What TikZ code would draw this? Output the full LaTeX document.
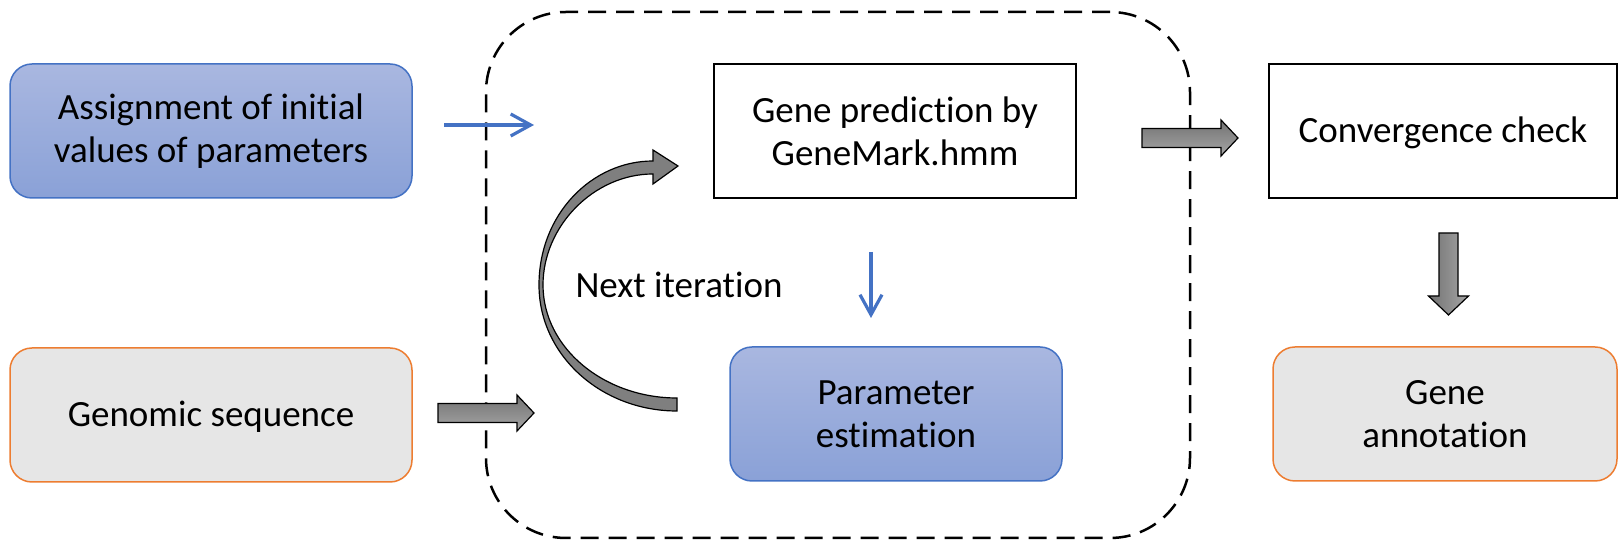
\documentclass[tikz,border=0pt]{standalone}
\usepackage{fontspec}
\setmainfont{Carlito}[Ligatures=NoCommon]
\usetikzlibrary{arrows.meta}
\definecolor{edgeblue}{HTML}{4472C4}
\definecolor{bluetop}{HTML}{A9B7E0}
\definecolor{bluebot}{HTML}{8AA1D7}
\definecolor{greyfill}{HTML}{E6E6E6}
\definecolor{edgeorange}{HTML}{ED7D31}
\definecolor{arrowdark}{HTML}{727272}
\definecolor{arrowlight}{HTML}{A6A6A6}
\definecolor{loopgrey}{HTML}{7F7F7F}

\begin{document}
\begin{tikzpicture}[x=0.5pt,y=-0.5pt,
  every node/.style={font=\fontsize{18.5}{21.5}\selectfont, align=center, inner sep=0pt},
  oneline/.style={align=none, text height=14.8pt, text depth=2.8pt},
  bluebox/.style={draw=edgeblue, line width=0.75pt, rounded corners=11pt,
    top color=bluetop, bottom color=bluebot},
  greybox/.style={draw=edgeorange, line width=0.75pt, rounded corners=11pt, fill=greyfill},
  plainbox/.style={draw=black, line width=1.2pt, fill=white},
  loopframe/.style={draw=black, line width=1.25pt, dash pattern=on 9pt off 5pt,
    rounded corners=40pt},
  thinflow/.style={draw=edgeblue, line width=1.6pt,
    -{Straight Barb[length=10pt,width=11pt,line width=1.6pt]}},
  blockarrow/.style={draw=black, line width=0.6pt, top color=arrowdark, bottom color=arrowlight},
  looparrow/.style={draw=black, line width=0.6pt, fill=loopgrey},
  rblock/.pic={\path[blockarrow] (0,-9.5) -- (79,-9.5) -- (79,-18) -- (96,0)
      -- (79,18) -- (79,9.5) -- (0,9.5) -- cycle;}]

\useasboundingbox (0,0) rectangle (1619,544);

% iteration loop frame
\node[loopframe, minimum width=352pt, minimum height=263pt] (loop) at (838,275) {};

% boxes
\node[bluebox, minimum width=201pt, minimum height=67pt] (assign) at (211,131)
  {Assignment of initial\\values of parameters};
\node[greybox, oneline, minimum width=201pt, minimum height=67pt] (genome) at (211,415)
  {Genomic sequence};
\node[plainbox, minimum width=181pt, minimum height=67pt] (predict) at (895,131)
  {Gene prediction by\\GeneMark.hmm};
\node[bluebox, minimum width=166pt, minimum height=67pt] (param) at (896,414)
  {Parameter\\estimation};
\node[plainbox, oneline, minimum width=174pt, minimum height=67pt] (conv) at (1443,131)
  {Convergence check};
\node[greybox, minimum width=172pt, minimum height=67pt] (annot) at (1445,414)
  {Gene\\annotation};
\node (next) at (679,285) {Next iteration};

% thin blue flow arrows
\coordinate (initA) at (444,125);
\coordinate (initB) at (534,125);
\coordinate (estA) at (871,252);
\coordinate (estB) at (871,318);
\draw[thinflow] (initA) -- (initB);
\draw[thinflow] (estA) -- (estB);

% block arrows
\coordinate (seqIn) at (438,413);
\coordinate (convIn) at (1142,138);
\pic at (seqIn) {rblock};
\pic at (convIn) {rblock};
\coordinate (annIn) at (1448.5,233);
\path[draw=black, line width=0.6pt, left color=arrowdark, right color=arrowlight]
  (annIn) ++(-9.5,0) -- ++(0,63) -- ++(-10.5,0) -- (1448.5,315) -- (1468.5,296)
  -- ++(-10.5,0) -- ++(0,-63) -- cycle;

% curved "next iteration" arrow
\path[looparrow] (677,411) .. controls (601,411) and (539,355) .. (539,285)
  .. controls (539,214) and (592,161) .. (653,161)
  -- (653,150) -- (678,166) -- (653,184) -- (653,174)
  .. controls (594,174) and (543,226) .. (543,285)
  .. controls (543,348) and (604,398) .. (677,398) -- cycle;

\end{tikzpicture}
\end{document}
